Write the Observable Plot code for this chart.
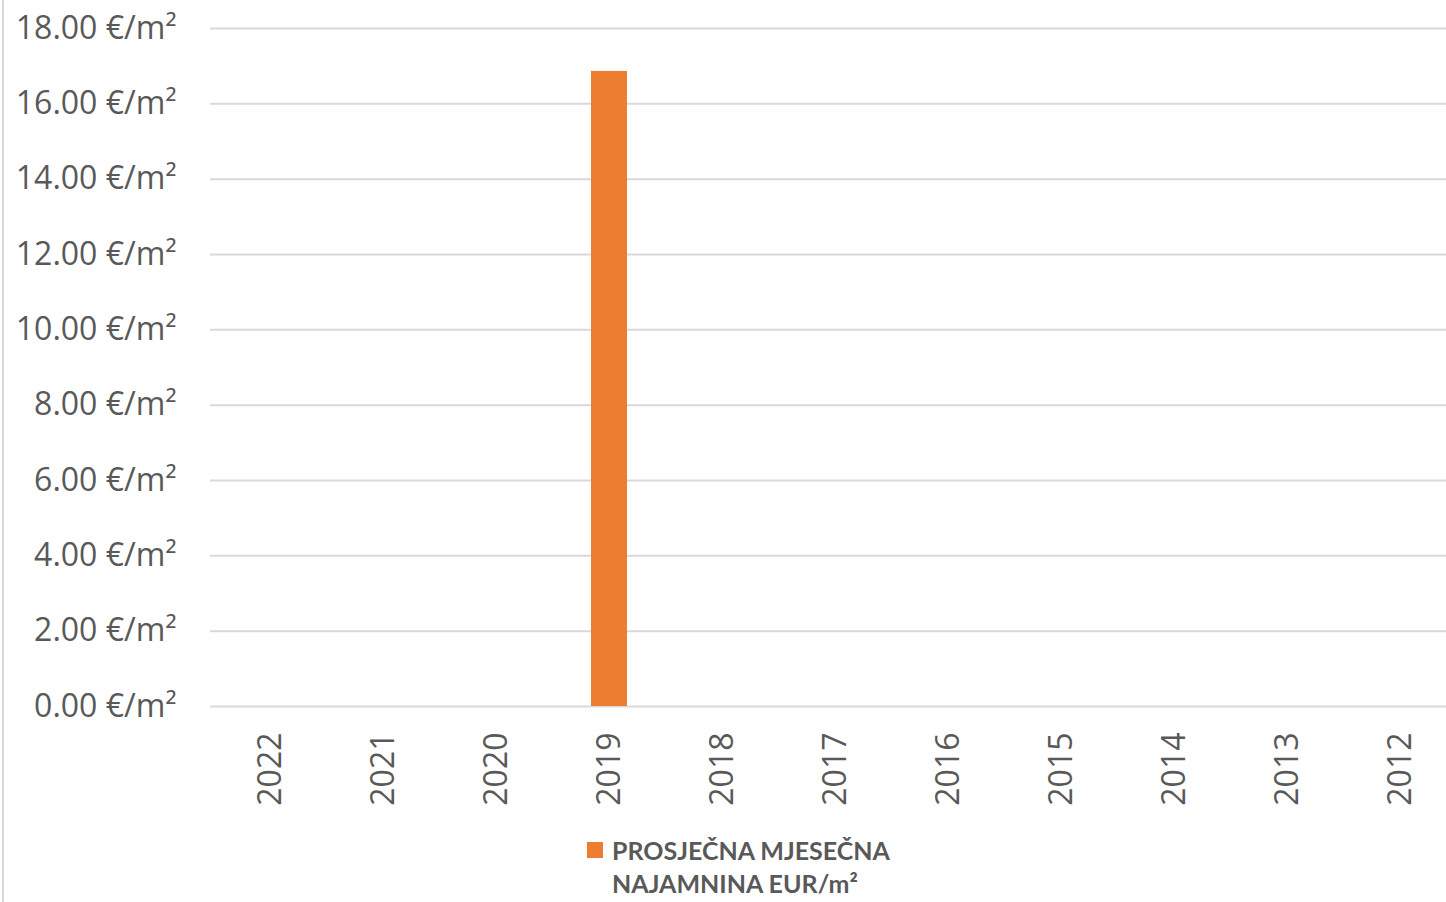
<!DOCTYPE html>
<html>
<head>
<meta charset="utf-8">
<script src="https://cdn.jsdelivr.net/npm/d3@7"></script>
<script src="https://cdn.jsdelivr.net/npm/@observablehq/plot@0.6"></script>
<style>
  html, body { margin: 0; padding: 0; background: #fff; }
  #wrap { position: relative; width: 1446px; height: 902px; overflow: hidden; }
  #border { position: absolute; left: 2px; top: 0; width: 2px; height: 902px; background: #d9d9d9; }
  #legend { position: absolute; left: 587px; top: 834px; font-family: Lato, "Open Sans", sans-serif; font-weight: bold; font-size: 25px; color: #595959; line-height: 33px; }
  #legend .sw { position: absolute; left: 0; top: 8px; width: 16px; height: 16px; background: #ED7D31; }
  #legend .tx { margin-left: 25px; }
</style>
</head>
<body>
<div id="wrap">
  <div id="border"></div>
  <div id="chart"></div>
  <div id="legend"><span class="sw"></span><div class="tx">PROSJEČNA MJESEČNA<br>NAJAMNINA EUR/m²</div></div>
</div>
<script>
const years = ["2022","2021","2020","2019","2018","2017","2016","2015","2014","2013","2012"];
const rent = [null, null, null, 16.86, null, null, null, null, null, null, null];
const yTicks = [0, 2, 4, 6, 8, 10, 12, 14, 16, 18];
const seriesName = "PROSJEČNA MJESEČNA NAJAMNINA EUR/m²";

const data = years.map((y, i) => ({year: y, value: rent[i]})).filter(d => d.value != null);

const chart = Plot.plot({
  width: 1446,
  height: 820,
  marginLeft: 210,
  marginRight: 0,
  marginTop: 28,
  marginBottom: 114,
  style: {fontFamily: "'Open Sans', sans-serif", fontSize: "32px", color: "#595959", background: "transparent"},
  x: {domain: years, paddingInner: 0.68, paddingOuter: 0.34, range: [209, 1461], label: null},
  y: {domain: [0, 18], label: null},
  marks: [
    Plot.gridY(yTicks, {stroke: "#d9d9d9", strokeOpacity: 1, strokeWidth: 2}),
    Plot.barY(data, {x: "year", y: "value", fill: "#ED7D31"}),
    Plot.axisY(yTicks, {tickSize: 0, tickPadding: 34, tickFormat: d => d3.format(".2f")(d) + " €/m²", fill: "#595959", fontSize: 32}),
    Plot.axisX({tickSize: 0, tickRotate: -90, tickPadding: 26, fill: "#595959", fontSize: 32, label: null})
  ]
});
document.getElementById("chart").appendChild(chart);
</script>
</body>
</html>
